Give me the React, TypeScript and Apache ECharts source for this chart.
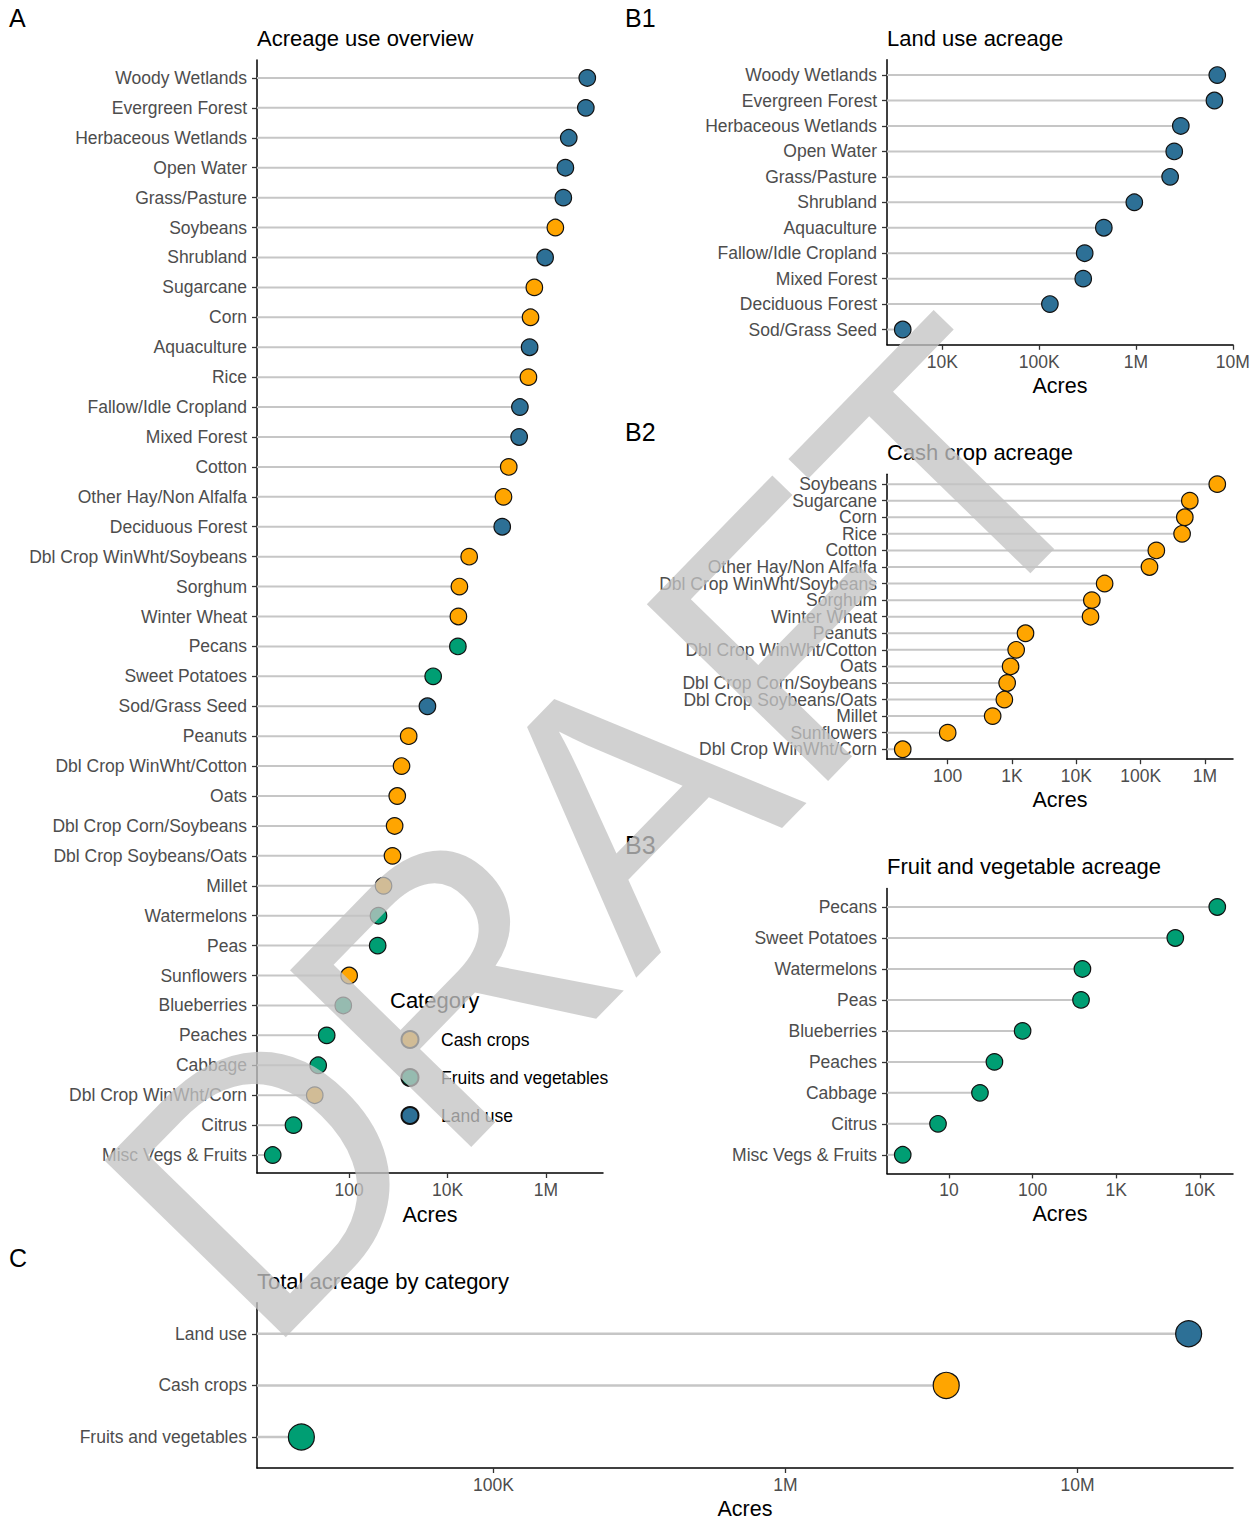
import React, { useEffect, useRef } from "react";
import * as echarts from "echarts";

const FONT = "'Liberation Sans', Arial, Helvetica, sans-serif";

// ---------------- data ----------------
const landUseNames = [
  "Woody Wetlands", "Evergreen Forest", "Herbaceous Wetlands", "Open Water", "Grass/Pasture",
  "Shrubland", "Aquaculture", "Fallow/Idle Cropland", "Mixed Forest", "Deciduous Forest", "Sod/Grass Seed",
];
const landUseAcres = [6900000, 6450000, 2900000, 2480000, 2250000, 960000, 465000, 295000, 285000, 129000, 3900];

const cashCropNames = [
  "Soybeans", "Sugarcane", "Corn", "Rice", "Cotton", "Other Hay/Non Alfalfa", "Dbl Crop WinWht/Soybeans",
  "Sorghum", "Winter Wheat", "Peanuts", "Dbl Crop WinWht/Cotton", "Oats", "Dbl Crop Corn/Soybeans",
  "Dbl Crop Soybeans/Oats", "Millet", "Sunflowers", "Dbl Crop WinWht/Corn",
];
const cashCropAcres = [1550000, 580000, 485000, 440000, 175000, 137000, 27500, 17400, 16600, 1620, 1160, 950, 840, 760, 500, 100, 20];

const fruitVegNames = [
  "Pecans", "Sweet Potatoes", "Watermelons", "Peas", "Blueberries", "Peaches", "Cabbage", "Citrus", "Misc Vegs & Fruits",
];
const fruitVegAcres = [16200, 5100, 395, 380, 76, 35, 23.5, 7.4, 2.8];

const categoryNames = ["Land use", "Cash crops", "Fruits and vegetables"];
const categoryTotals = [24000000, 3550000, 22000];

const legendOrder = ["Cash crops", "Fruits and vegetables", "Land use"];

const ticksA = [100, 10000, 1000000];
const ticksB1 = [10000, 100000, 1000000, 10000000];
const ticksB2 = [100, 1000, 10000, 100000, 1000000];
const ticksB3 = [10, 100, 1000, 10000];
const ticksC = [100000, 1000000, 10000000];

const COLORS: Record<string, string> = {
  "Land use": "#2D7096",
  "Cash crops": "#FFA500",
  "Fruits and vegetables": "#009E73",
};

type Item = { name: string; value: number; group: string };

function fmt(v: number): string {
  if (v >= 1e6) return Math.round(v / 1e6) + "M";
  if (v >= 1e3) return Math.round(v / 1e3) + "K";
  return String(Math.round(v));
}

function logRange(vals: number[]): [number, number] {
  const lo = Math.log10(Math.min(...vals));
  const hi = Math.log10(Math.max(...vals));
  const pad = (hi - lo) * 0.05;
  return [Math.pow(10, lo - pad), Math.pow(10, hi + pad)];
}

function buildOption() {
  const landItems: Item[] = landUseNames.map((n, i) => ({ name: n, value: landUseAcres[i], group: "Land use" }));
  const cashItems: Item[] = cashCropNames.map((n, i) => ({ name: n, value: cashCropAcres[i], group: "Cash crops" }));
  const fruitItems: Item[] = fruitVegNames.map((n, i) => ({ name: n, value: fruitVegAcres[i], group: "Fruits and vegetables" }));
  const allItems: Item[] = [...landItems, ...cashItems, ...fruitItems].sort((a, b) => b.value - a.value);
  const catItems: Item[] = categoryNames.map((n, i) => ({ name: n, value: categoryTotals[i], group: n }));

  const panels = [
    { left: 257, top: 60, width: 346, height: 1113, items: allItems, ticks: ticksA, size: 16.5, stemW: 2 },
    { left: 887, top: 59.8, width: 346, height: 285, items: landItems, ticks: ticksB1, size: 16.5, stemW: 2 },
    { left: 887, top: 474.2, width: 346, height: 285, items: cashItems, ticks: ticksB2, size: 16.5, stemW: 2 },
    { left: 887, top: 888.4, width: 346, height: 285, items: fruitItems, ticks: ticksB3, size: 16.5, stemW: 2 },
    { left: 257, top: 1302.8, width: 976, height: 166.4, items: catItems, ticks: ticksC, size: 26, stemW: 2.5 },
  ];

  const grids: any[] = [];
  const xAxes: any[] = [];
  const yAxes: any[] = [];
  const series: any[] = [];

  panels.forEach((p, i) => {
    grids.push({ left: p.left, top: p.top, width: p.width, height: p.height, containLabel: false });
    const [mn, mx] = logRange(p.items.map((d) => d.value));
    const names = p.items.map((d) => d.name);
    // positions of the discrete levels, plus two blank guards at the panel ends
    const idx = [-0.55, ...names.map((_, k) => k), names.length - 0.45];
    xAxes.push({
      type: "log",
      logBase: 10,
      gridIndex: i,
      position: "bottom",
      min: mn,
      max: mx,
      name: "Acres",
      nameLocation: "middle",
      nameGap: 30,
      nameTextStyle: { fontSize: 21.5, color: "#000", fontFamily: FONT },
      axisLine: { show: true, onZero: false, lineStyle: { color: "#000", width: 1.5 } },
      axisTick: { show: true, length: 5, customValues: p.ticks, lineStyle: { color: "#333", width: 1.3 } },
      axisLabel: {
        customValues: p.ticks,
        formatter: (v: number) => fmt(v),
        color: "#4D4D4D",
        fontSize: 17.5,
        fontFamily: FONT,
        margin: 8,
      },
      splitLine: { show: false },
      minorTick: { show: false },
    });
    // ggplot-like discrete axis: 0.6 band padding at each end
    yAxes.push({
      type: "value",
      gridIndex: i,
      position: "left",
      inverse: true,
      min: -0.6,
      max: names.length - 0.4,
      axisLine: { show: true, onZero: false, lineStyle: { color: "#000", width: 1.5 } },
      axisTick: { show: true, length: 5, customValues: idx, lineStyle: { color: "#333", width: 1.3 } },
      axisLabel: {
        customValues: idx,
        showMinLabel: false,
        showMaxLabel: false,
        hideOverlap: false,
        formatter: (v: number) => (Number.isInteger(v) && names[v] !== undefined ? names[v] : ""),
        color: "#4D4D4D",
        fontSize: 17.5,
        fontFamily: FONT,
        margin: 10,
      },
      splitLine: { show: false },
    });

    series.push({
      type: "custom",
      name: "stems" + i,
      xAxisIndex: i,
      yAxisIndex: i,
      silent: true,
      z: 1,
      encode: { x: 0, y: 1 },
      data: p.items.map((d, k) => [d.value, k, d.name]),
      renderItem: (params: any, api: any) => {
        const pt = api.coord([api.value(0), api.value(1)]);
        const x0 = params.coordSys.x;
        return {
          type: "line",
          shape: { x1: x0, y1: pt[1], x2: pt[0], y2: pt[1] },
          style: { stroke: "#C6C6C6", lineWidth: p.stemW },
        };
      },
    });

    const groups = Array.from(new Set(p.items.map((d) => d.group)));
    groups.forEach((g) => {
      series.push({
        type: "scatter",
        name: g,
        xAxisIndex: i,
        yAxisIndex: i,
        z: 3,
        symbol: "circle",
        symbolSize: p.size,
        itemStyle: { color: COLORS[g], borderColor: "#111", borderWidth: 1.2, opacity: 1 },
        data: p.items
          .map((d, k) => ({ d, k }))
          .filter((o) => o.d.group === g)
          .map((o) => ({ name: o.d.name, value: [o.d.value, o.k] })),
      });
    });
  });

  const txt = (text: string, x: number, y: number, size: number, color = "#000") => ({
    type: "text",
    x,
    y,
    silent: true,
    style: {
      text,
      fontSize: size,
      fontFamily: FONT,
      fill: color,
      textAlign: "left",
      align: "left",
      textVerticalAlign: "middle",
      verticalAlign: "middle",
    },
  });

  const graphics: any[] = [
    txt("A", 9, 18, 25),
    txt("B1", 625, 18, 25),
    txt("B2", 625, 432, 25),
    txt("B3", 625, 845, 25),
    txt("C", 9, 1258, 25),
    txt("Acreage use overview", 257, 38, 22),
    txt("Land use acreage", 887, 38, 22),
    txt("Cash crop acreage", 887, 452, 22),
    txt("Fruit and vegetable acreage", 887, 866, 22),
    txt("Total acreage by category", 257, 1281, 22),
    txt("Category", 390, 1000, 22),
    {
      type: "text",
      x: 173.4,
      y: 1269.8,
      rotation: (45.74 * Math.PI) / 180,
      z: 100,
      silent: true,
      style: {
        text: "DRAFT",
        fontSize: 368,
        fontFamily: FONT,
        fill: "rgba(195,195,195,0.77)",
        textAlign: "left",
        align: "left",
        textVerticalAlign: "middle",
        verticalAlign: "middle",
      },
    },
  ];

  return {
    animation: false,
    backgroundColor: "#ffffff",
    textStyle: { fontFamily: FONT },
    grid: grids,
    xAxis: xAxes,
    yAxis: yAxes,
    series,
    legend: {
      orient: "vertical",
      left: 400.5,
      top: 1030,
      data: legendOrder,
      icon: "circle",
      itemWidth: 17,
      itemHeight: 17,
      itemGap: 19,
      padding: 0,
      selectedMode: false,
      textStyle: { fontSize: 17.5, color: "#000", fontFamily: FONT, padding: [0, 0, 0, 17.5] },
    },
    graphic: { elements: graphics },
  };
}

export default function App() {
  const ref = useRef<HTMLDivElement>(null);
  useEffect(() => {
    if (!ref.current) return;
    const chart = echarts.init(ref.current, undefined, { renderer: "svg" });
    chart.setOption(buildOption() as any);
    return () => chart.dispose();
  }, []);
  return (
    <div
      ref={ref}
      style={{ position: "absolute", left: 0, top: 0, width: 1257, height: 1521, background: "#fff" }}
    />
  );
}
